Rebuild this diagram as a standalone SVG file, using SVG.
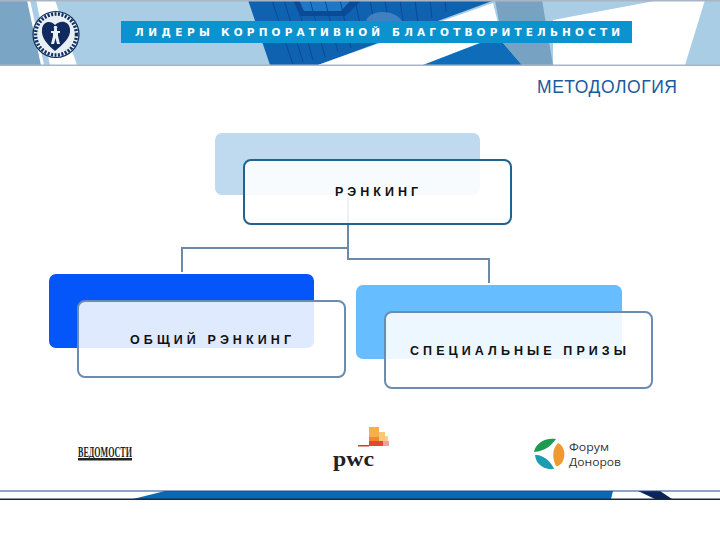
<svg xmlns="http://www.w3.org/2000/svg" width="720" height="540" viewBox="0 0 720 540">
<style>
.rear{stroke:none}
.front{fill:#fff;fill-opacity:.88;stroke:#6a8cb0;stroke-width:2}
.label{font-family:"Liberation Sans",Arial,sans-serif;font-size:12.500px;font-weight:700;fill:#111}
.conn{fill:none;stroke:#6b8aa8;stroke-width:2}
.sans{font-family:"Liberation Sans",Arial,sans-serif}
.bar{font-family:"DejaVu Sans",sans-serif;font-size:10.500px;font-weight:700;fill:#fff}
</style>
<rect width="720" height="540" fill="#fff"/>
<g id="header">
<rect width="720" height="65" fill="#a9cde4"/>
<polygon points="0,0 27,0 41,65 0,65" fill="#7ba5c4"/>
<polygon points="27,0 30,0 44,65 41,65" fill="#fff"/>
<polygon points="36,0 55,0 77,65 50,65" fill="#fff"/>
<polygon points="248,0 495,0 318,65 270,65" fill="#0f62b0"/>
<path d="M293,0 300,16H345L362,0Z" fill="#0a4a96"/>
<path d="M299,0 304,11H341L351,0Z" fill="#1f78c4"/>
<g stroke="#0a4a96" stroke-width="1" fill="none">
<path d="M272,0 293,65M284,0 303,62M296,0 313,60M310,0 325,57M325,0 338,52M340,0 351,48M355,0 364,43M370,0 377,38M385,0 390,33M400,0 404,28M415,0 418,23M430,0 432,18M445,0 446,12"/>
</g>
<path d="M366,21 C370,9 394,9 402,21Z" fill="#3f80c0"/>
<polygon points="318,65 493,3 503,43 480,43 423,65" fill="#fff"/>
<polygon points="423,65 480,43 503,43 522,65" fill="#0f6cb8"/>
<polygon points="495,0 542,0 553,65 522,65 503,43" fill="#78a2c2"/>
<polygon points="553,20 660,0 705,0 685,65 553,65" fill="#fff"/>
<rect width="720" height="1.500" fill="#a9b5c5"/>
<rect y="64.500" width="720" height="1.500" fill="#a9b5c5"/>
</g>
<g id="logo">
<circle cx="56" cy="34.500" r="23" fill="#e8f0f6" stroke="#12305f" stroke-width="1.200"/>
<circle cx="56" cy="34.500" r="20.500" fill="none" stroke="#12305f" stroke-width="3.500" stroke-dasharray="2 1.500"/>
<path d="M55,51 C47,44 41,38 42,29 C43,21 51,20 55,25 C59,20 69,20 70,29 C71,38 63,44 55,51Z" fill="#10295e"/>
<path d="M51,31 H54 V29 H57 V31 H60 V33 H58 V36 L60,44 H57 L55.500,38 54,44 H51 L53,36 V33 H51Z" fill="#e8f0f6"/>
<circle cx="55.500" cy="27.500" r="1.800" fill="#e8f0f6"/>
</g>
<g id="title-bar">
<rect x="121" y="21" width="511" height="22" fill="#0b93d0"/>
<text x="135" y="36" class="bar" textLength="75" lengthAdjust="spacing">ЛИДЕРЫ</text>
<text x="221" y="36" class="bar" textLength="159" lengthAdjust="spacing">КОРПОРАТИВНОЙ</text>
<text x="392" y="36" class="bar" textLength="228" lengthAdjust="spacing">БЛАГОТВОРИТЕЛЬНОСТИ</text>
</g>
<text id="page-title" x="537" y="92.500" class="sans" font-size="17.500" fill="#1a5a9c" textLength="140">МЕТОДОЛОГИЯ</text>
<g id="connectors">
<path class="conn" d="M348,197V259H489V283M348,248H182V272"/>
</g>
<g id="node-ranking">
<rect class="rear" x="215" y="133" width="265" height="62" rx="7" fill="#bfd9ee"/>
<rect class="front" x="244" y="160" width="267" height="64" rx="7" style="stroke:#1f6390"/>
<text class="label" x="335" y="196" textLength="83">РЭНКИНГ</text>
</g>
<g id="node-general">
<rect class="rear" x="49" y="274" width="265" height="74" rx="7" fill="#0455fa"/>
<rect class="front" x="78" y="301" width="267" height="76" rx="7"/>
<text class="label" x="130" y="344" textLength="161" xml:space="preserve">ОБЩИЙ РЭНКИНГ</text>
</g>
<g id="node-special">
<rect class="rear" x="356" y="285" width="266" height="74" rx="7" fill="#66bdff"/>
<rect class="front" x="385" y="312" width="267" height="76" rx="7"/>
<text class="label" x="410" y="355" textLength="216" xml:space="preserve">СПЕЦИАЛЬНЫЕ ПРИЗЫ</text>
</g>
<g id="logo-vedomosti">
<text x="78" y="456.500" font-family="Liberation Serif,serif" font-size="14" font-weight="700" fill="#222" textLength="54" lengthAdjust="spacingAndGlyphs">ВЕДОМОСТИ</text>
<rect x="78" y="458" width="54" height="2.500" fill="#222"/>
</g>
<g id="logo-pwc">
<rect x="369" y="427" width="10" height="19" fill="#f5b04a"/>
<rect x="379" y="432" width="6" height="14" fill="#f9c77a"/>
<rect x="385" y="436" width="3" height="10" fill="#f6d08f"/>
<rect x="369" y="437" width="10" height="9" fill="#ee8a2b"/>
<rect x="369" y="441" width="14" height="5" fill="#e2492b"/>
<rect x="383" y="441" width="6" height="5" fill="#f0a0a0"/>
<rect x="358" y="445" width="11" height="1.500" fill="#d93a20"/>
<text x="333" y="465.500" font-family="Liberation Serif,serif" font-size="21" font-weight="700" fill="#222" textLength="41" lengthAdjust="spacingAndGlyphs">pwc</text>
</g>
<g id="logo-forum">
<path d="M534,452 C535,444 545,437 556,439 C551,446 545,451 534,452Z" fill="#1f9a52"/>
<path d="M535,455 C542,454 551,461 554,469 C546,470 536,466 535,455Z" fill="#1b9db0"/>
<path d="M558,443 C564,446 566,453 563,461 C561,465 557,467 556,466 C552,458 552,449 558,443Z" fill="#ef9a2e"/>
<text x="569" y="450.500" font-family="Open Sans,sans-serif" font-size="11" fill="#333" textLength="40" lengthAdjust="spacingAndGlyphs">Форум</text>
<text x="569" y="465.500" font-family="Open Sans,sans-serif" font-size="11" fill="#333" textLength="52" lengthAdjust="spacingAndGlyphs">Доноров</text>
</g>
<g id="footer">
<polygon points="133,499 165,491 613,491 611,499" fill="#0c68b4"/>
<polygon points="638,491 660,491 672,499 655,499" fill="#0e2458"/>
<rect y="490.500" width="720" height="1" fill="#1f4f8a"/>
<rect y="498.500" width="720" height="1.500" fill="#1a2a3a"/>
</g>
</svg>
